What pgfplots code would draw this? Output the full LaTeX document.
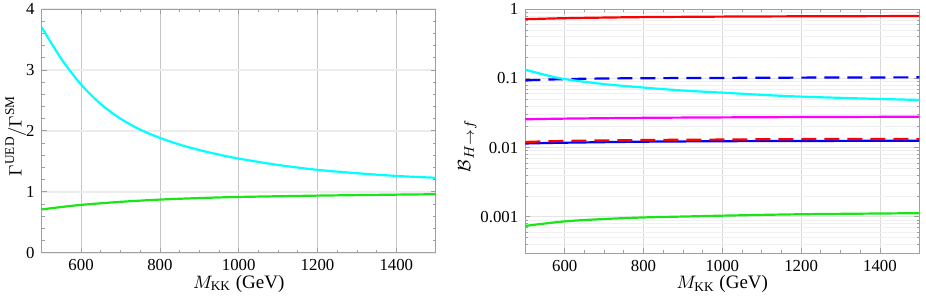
\documentclass[border=0pt]{standalone}
\usepackage{fontspec}
\setmainfont{Liberation Serif}
\usepackage{pgfplots}
\pgfplotsset{compat=1.18}
\definecolor{cy}{rgb}{0,1,1}
\definecolor{gr}{rgb}{0.1,0.9,0.1}
\definecolor{mg}{rgb}{1,0,1}
\begin{document}
\begin{tikzpicture}
\useasboundingbox (0,0) rectangle (463pt,148.5pt);
\pgfplotsset{
 every axis/.append style={
  scale only axis, width=197pt, height=121.85pt,
  axis line style={gray!75, line width=0.5pt},
  tick style={gray!75, line width=0.4pt},
  major tick length=2.5pt, minor tick length=1.4pt,
  tick align=inside,
  tick label style={font=\fontsize{8.4}{10}\selectfont, text=black},
  label style={font=\fontsize{9.5}{11}\selectfont},
  /pgf/number format/assume math mode=true,
  /pgf/number format/1000 sep={},
  xmin=500, xmax=1500,
  xtick={600,800,1000,1200,1400},
  minor x tick num=3,
  xmajorgrids, 
  xlabel={$M_{\mathrm{KK}}$ (GeV)},
  xlabel style={at={(axis description cs:0.5,-0.128)}, anchor=center},
  every axis plot/.append style={line width=1.1pt},
 }}
\begin{axis}[at={(20.85pt,22.15pt)}, anchor=south west,
  ymin=0, ymax=4, ytick={0,1,2,3,4}, minor y tick num=4,
  ymajorgrids,
  x grid style={gray!45, line width=0.4pt},
  y grid style={gray!15, line width=1pt},
  ylabel={$\Gamma^{\mathrm{UED}}/\Gamma^{\mathrm{SM}}$},
  ylabel style={at={(axis description cs:-0.066,0.48)}, anchor=center},
]
\addplot[cy, smooth] coordinates {(500,3.70) (550,3.18) (600,2.76) (650,2.44) (700,2.20) (750,2.02) (800,1.885) (850,1.775) (900,1.685) (950,1.61) (1000,1.545) (1100,1.44) (1200,1.36) (1300,1.305) (1400,1.26) (1500,1.23)};
\addplot[gr, smooth] coordinates {(500,0.71) (550,0.75) (600,0.785) (700,0.835) (800,0.872) (900,0.897) (1000,0.915) (1200,0.937) (1400,0.953) (1500,0.96)};
\end{axis}
\begin{axis}[at={(262.65pt,22pt)}, anchor=south west,
  ymode=log, ymin=0.0003, ymax=1,
  ytick={0.001,0.01,0.1,1}, yticklabels={0.001,0.01,0.1,1},
  minor ytick={0.0003,0.0004,0.0005,0.0006,0.0007,0.0008,0.0009,0.002,0.003,0.004,0.005,0.006,0.007,0.008,0.009,0.02,0.03,0.04,0.05,0.06,0.07,0.08,0.09,0.2,0.3,0.4,0.5,0.6,0.7,0.8,0.9},
  ymajorgrids, yminorgrids,
  x grid style={gray!30, line width=0.4pt},
  major y grid style={gray!20, line width=0.5pt},
  minor y grid style={gray!12, line width=0.5pt},
  ylabel={$\mathcal{B}_{H\to f}$},
  ylabel style={at={(axis description cs:-0.147,0.44)}, anchor=center},
]
\addplot[red, smooth] coordinates {(500,0.72) (600,0.745) (700,0.76) (800,0.772) (1000,0.785) (1200,0.793) (1500,0.80)};
\addplot[blue, dash pattern=on 7.5pt off 4pt, smooth] coordinates {(500,0.094) (600,0.098) (700,0.100) (800,0.101) (1000,0.102) (1200,0.103) (1500,0.104)};
\addplot[cy, smooth] coordinates {(500,0.134) (550,0.113) (600,0.098) (700,0.083) (800,0.074) (900,0.067) (1000,0.0625) (1100,0.058) (1200,0.0547) (1300,0.0525) (1400,0.0506) (1500,0.049)};
\addplot[mg, smooth] coordinates {(500,0.0257) (600,0.0263) (800,0.0270) (1000,0.0274) (1200,0.0277) (1500,0.0280)};
\addplot[blue, smooth] coordinates {(500,0.0115) (600,0.0118) (800,0.0122) (1000,0.0124) (1200,0.0125) (1500,0.0126)};
\addplot[red, dash pattern=on 7.5pt off 4pt, smooth] coordinates {(500,0.0121) (600,0.0125) (800,0.0129) (1000,0.0131) (1200,0.0133) (1500,0.0134)};
\addplot[gr, smooth] coordinates {(500,0.00074) (600,0.00086) (700,0.00093) (800,0.00098) (900,0.00101) (1000,0.00104) (1200,0.00109) (1500,0.00113)};
\end{axis}
\end{tikzpicture}
\end{document}
